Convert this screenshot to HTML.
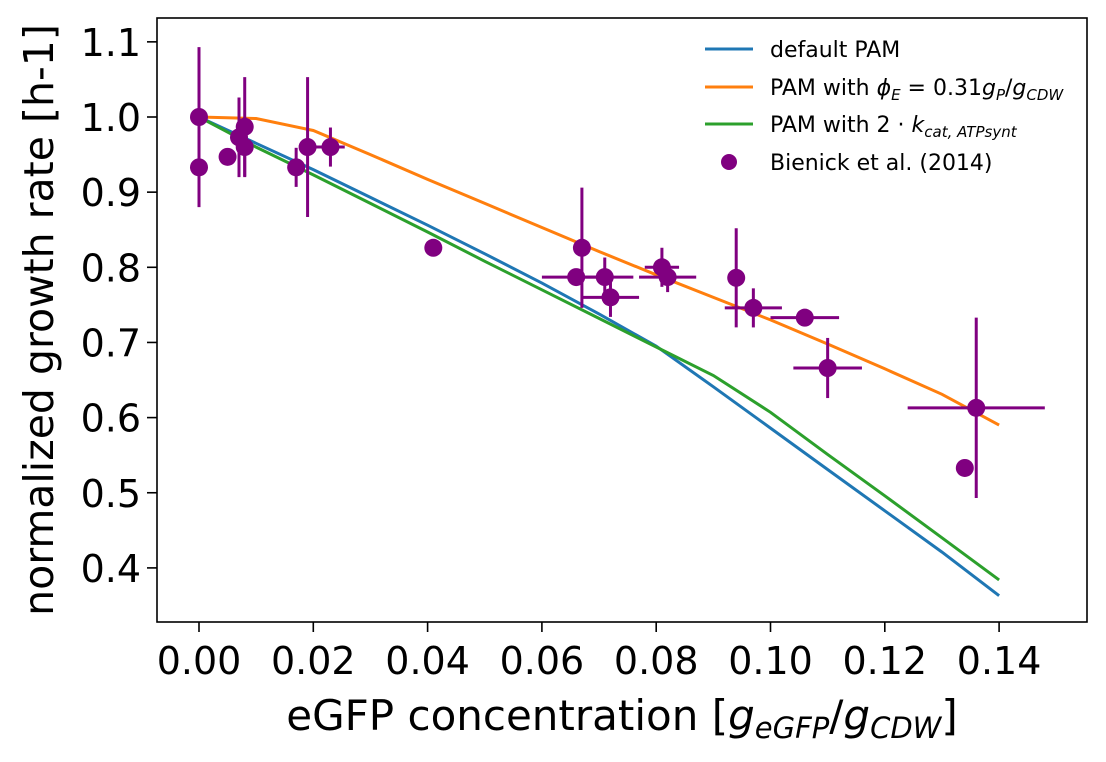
<!DOCTYPE html>
<html><head><meta charset="utf-8"><style>
body{margin:0;background:#fff}
svg text{font-family:"DejaVu Sans","Liberation Sans",sans-serif;fill:#000}
</style></head><body>
<svg id="chart" width="1106" height="757" viewBox="0 0 1106 757" xmlns="http://www.w3.org/2000/svg">
<rect x="0" y="0" width="1106" height="757" fill="#fff"/>
<g id="plot"></g>
<rect x="157" y="18" width="930" height="604" fill="none" stroke="#000" stroke-width="1.6"/>
<g id="axes"></g>
<text x="622" y="730" font-size="42" text-anchor="middle">eGFP concentration [<tspan font-style="italic">g</tspan><tspan font-style="italic" font-size="29" dy="8">eGFP</tspan><tspan dy="-8">/</tspan><tspan font-style="italic">g</tspan><tspan font-style="italic" font-size="29" dy="8">CDW</tspan><tspan dy="-8">]</tspan></text>
<text transform="translate(53,320) rotate(-90)" font-size="41" text-anchor="middle">normalized growth rate [h-1]</text>
<g font-size="22">
<line x1="705" y1="49" x2="753" y2="49" stroke="#1f77b4" stroke-width="3"/>
<text x="770" y="57">default PAM</text>
<line x1="705" y1="87" x2="753" y2="87" stroke="#ff7f0e" stroke-width="3"/>
<text x="770" y="95">PAM with <tspan font-style="italic">ϕ</tspan><tspan font-style="italic" font-size="15" dy="5">E</tspan><tspan dy="-5"> = 0.31</tspan><tspan font-style="italic">g</tspan><tspan font-style="italic" font-size="15" dy="5">P</tspan><tspan dy="-5">/</tspan><tspan font-style="italic">g</tspan><tspan font-style="italic" font-size="15" dy="5">CDW</tspan></text>
<line x1="705" y1="124" x2="753" y2="124" stroke="#2ca02c" stroke-width="3"/>
<text x="770" y="132">PAM with 2 · <tspan font-style="italic">k</tspan><tspan font-style="italic" font-size="15" dy="5">cat, ATPsynt</tspan></text>
<circle cx="729" cy="162" r="8" fill="#800080"/>
<text x="770" y="170">Bienick et al. (2014)</text>
</g>
</svg>
<script>
const xTicks=[0,0.02,0.04,0.06,0.08,0.10,0.12,0.14];
const xTickLabels=["0.00","0.02","0.04","0.06","0.08","0.10","0.12","0.14"];
const yTicks=[0.4,0.5,0.6,0.7,0.8,0.9,1.0,1.1];
const yTickLabels=["0.4","0.5","0.6","0.7","0.8","0.9","1.0","1.1"];
const defaultX=[0,0.01,0.02,0.03,0.04,0.05,0.06,0.07,0.08,0.09,0.10,0.11,0.12,0.13,0.14];
const defaultY=[1.0,0.965,0.93,0.893,0.856,0.818,0.779,0.738,0.695,0.641,0.586,0.531,0.476,0.421,0.363];
const phiX=[0,0.01,0.02,0.03,0.04,0.05,0.06,0.07,0.08,0.09,0.10,0.11,0.12,0.13,0.14];
const phiY=[1.0,0.998,0.982,0.95,0.917,0.885,0.853,0.821,0.79,0.76,0.73,0.698,0.665,0.631,0.59];
const kcatX=[0,0.01,0.02,0.03,0.04,0.05,0.06,0.07,0.08,0.09,0.10,0.11,0.12,0.13,0.14];
const kcatY=[1.0,0.96,0.923,0.885,0.847,0.808,0.77,0.732,0.694,0.656,0.607,0.551,0.496,0.44,0.384];
const expX=[0,0,0.005,0.007,0.008,0.008,0.017,0.019,0.023,0.041,0.067,0.066,0.071,0.072,0.081,0.082,0.094,0.097,0.106,0.110,0.136,0.134];
const expY=[1.0,0.933,0.947,0.973,0.987,0.96,0.933,0.96,0.96,0.826,0.826,0.787,0.787,0.76,0.8,0.787,0.786,0.746,0.733,0.666,0.613,0.533];
const expYErr=[0.093,0.053,0.005,0.053,0.066,0.04,0.026,0.093,0.026,0.005,0.08,0.005,0.026,0.026,0.026,0.02,0.066,0.026,0.005,0.04,0.12,0.008];
const expXErr=[0,0,0.0015,0,0,0,0,0,0.0025,0.001,0.001,0.006,0.005,0.005,0.003,0.005,0.001,0.005,0.006,0.006,0.012,0.001];
const NS="http://www.w3.org/2000/svg";
const sx=v=>199+v*5715;
const sy=v=>117-(v-1.0)*751.5;
function mk(tag,attrs,parent){const e=document.createElementNS(NS,tag);for(const k in attrs)e.setAttribute(k,attrs[k]);parent.appendChild(e);return e;}
const plot=document.getElementById('plot'),axes=document.getElementById('axes');
function line(xs,ys,color,name){const d=xs.map((x,i)=>(i?'L':'M')+sx(x).toFixed(1)+','+sy(ys[i]).toFixed(1)).join('');
const p=mk('path',{d:d,fill:'none',stroke:color,'stroke-width':3},plot);

}
line(defaultX,defaultY,'#1f77b4','default-pam-line');
line(phiX,phiY,'#ff7f0e','phi-pam-line');
line(kcatX,kcatY,'#2ca02c','kcat-pam-line');
expX.forEach((x,i)=>{const g=mk('g',{},plot);


const cx=sx(x),cy=sy(expY[i]);
if(expYErr[i]>0)mk('line',{x1:cx,x2:cx,y1:sy(expY[i]+expYErr[i]),y2:sy(expY[i]-expYErr[i]),stroke:'#800080','stroke-width':3},g);
if(expXErr[i]>0)mk('line',{x1:sx(x-expXErr[i]),x2:sx(x+expXErr[i]),y1:cy,y2:cy,stroke:'#800080','stroke-width':3},g);
mk('circle',{cx:cx,cy:cy,r:9,fill:'#800080'},g);});
xTicks.forEach((t,i)=>{const x=sx(t);
mk('line',{x1:x,x2:x,y1:622,y2:632,stroke:'#000','stroke-width':1.6},axes);
const tx=mk('text',{x:x,y:674,'font-size':38,'text-anchor':'middle'},axes);tx.textContent=xTickLabels[i];

});
yTicks.forEach((t,i)=>{const y=sy(t);
mk('line',{x1:147,x2:157,y1:y,y2:y,stroke:'#000','stroke-width':1.6},axes);
const tx=mk('text',{x:141,y:y+14,'font-size':38,'text-anchor':'end'},axes);tx.textContent=yTickLabels[i];

});
</script>
</body></html>
